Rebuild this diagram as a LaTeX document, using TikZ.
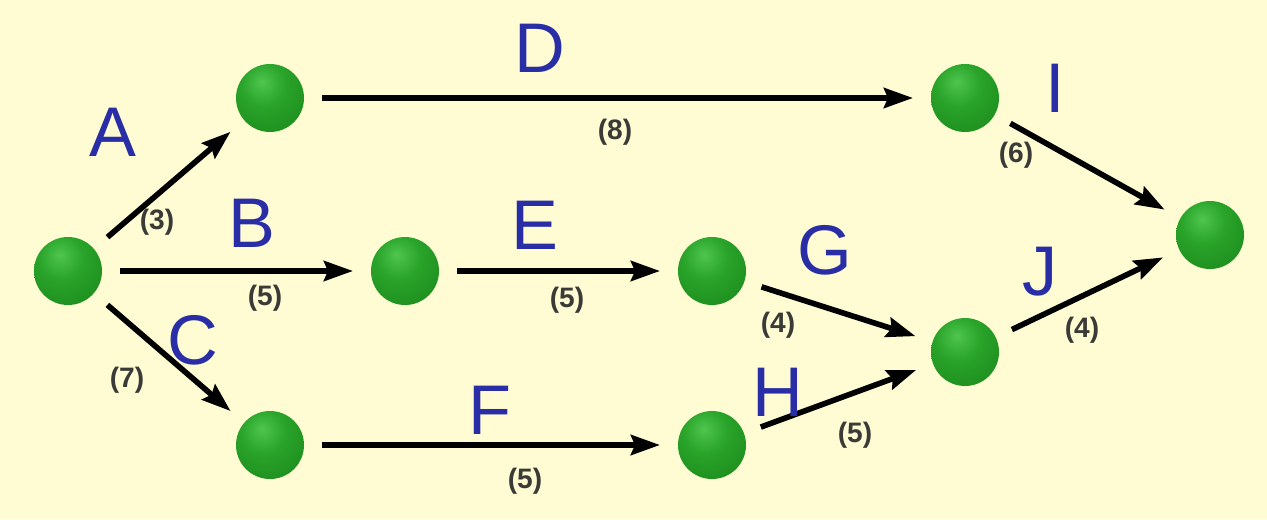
\documentclass[tikz,border=0pt]{standalone}
\usepackage{fontspec}
\setmainfont{Liberation Sans}
\usepackage{tikz}
\usepackage{xcolor}
\usetikzlibrary{arrows.meta, positioning}
\definecolor{paleyellow}{HTML}{FFFCD3}
\definecolor{actblue}{HTML}{2A2EA6}
\definecolor{durgray}{HTML}{3A3A36}
\definecolor{ballhi}{HTML}{4FC64F}
\definecolor{ballmid}{HTML}{2AA42A}
\definecolor{balldark}{HTML}{1B8A1B}
\definecolor{ballrim}{HTML}{0F5F10}
\pgfdeclareradialshading{greenball}{\pgfpoint{-6bp}{12bp}}{%
  color(0bp)=(ballhi); color(16bp)=(ballmid); color(40bp)=(balldark);
  color(58bp)=(ballrim); color(100bp)=(ballrim)}

\begin{document}
\begin{tikzpicture}[
  event/.style={circle, shading=greenball, minimum size=1.36cm, inner sep=0pt, outer sep=0.36cm},
  act/.style={-{Stealth[length=0.58cm, width=0.4cm, inset=0.08cm]}, line width=3.2pt},
  letter/.style={text=actblue, font=\fontsize{40}{40}\selectfont},
  dur/.style={text=durgray, font=\fontsize{16}{16}\selectfont\bfseries}]

\fill[paleyellow] (0,0) rectangle (25.34,10.38);
\useasboundingbox (0,0) rectangle (25.34,10.38);

% events
\node[event] (e1) at (1.36,4.96) {};
\node[event] (e2) at (5.40,8.42) {};
\node[event] (e3) at (8.10,4.96) {};
\node[event] (e4) at (5.40,1.48) {};
\node[event] (e5) at (19.30,8.42) {};
\node[event] (e6) at (14.24,4.96) {};
\node[event] (e7) at (14.24,1.48) {};
\node[event] (e8) at (19.30,3.34) {};
\node[event] (e9) at (24.20,5.68) {};

% activities
\draw[act] (e1) -- (e2);
\draw[act] (e1) -- (e3);
\draw[act] (e1) -- (e4);
\draw[act] (e2) -- (e5);
\draw[act] (e3) -- (e6);
\draw[act] (e4) -- (e7);
\draw[act] (e6) -- (e8);
\draw[act] (e7) -- (e8);
\draw[act] (e5) -- (e9);
\draw[act] (e8) -- (e9);

% names
\node[letter] (lA) at (2.26,7.74) {A};
\node[letter] (lB) at (5.04,5.92) {B};
\node[letter] (lC) at (3.86,3.58) {C};
\node[letter] (lD) at (10.80,9.42) {D};
\node[letter] (lE) at (10.70,5.88) {E};
\node[letter] (lF) at (9.80,2.18) {F};
\node[letter] (lG) at (16.50,5.38) {G};
\node[letter] (lH) at (15.56,2.54) {H};
\node[letter] (lI) at (21.10,8.62) {I};
\node[letter] (lJ) at (20.80,4.94) {J};

% durations
\node[dur] (dA) at (3.14,5.94) {(3)};
\node[dur] (dB) at (5.30,4.42) {(5)};
\node[dur] (dC) at (2.54,2.78) {(7)};
\node[dur] (dD) at (12.30,7.74) {(8)};
\node[dur] (dE) at (11.34,4.38) {(5)};
\node[dur] (dF) at (10.50,0.76) {(5)};
\node[dur] (dG) at (15.56,3.88) {(4)};
\node[dur] (dH) at (17.10,1.68) {(5)};
\node[dur] (dI) at (20.32,7.28) {(6)};
\node[dur] (dJ) at (21.64,3.78) {(4)};
\end{tikzpicture}
\end{document}
